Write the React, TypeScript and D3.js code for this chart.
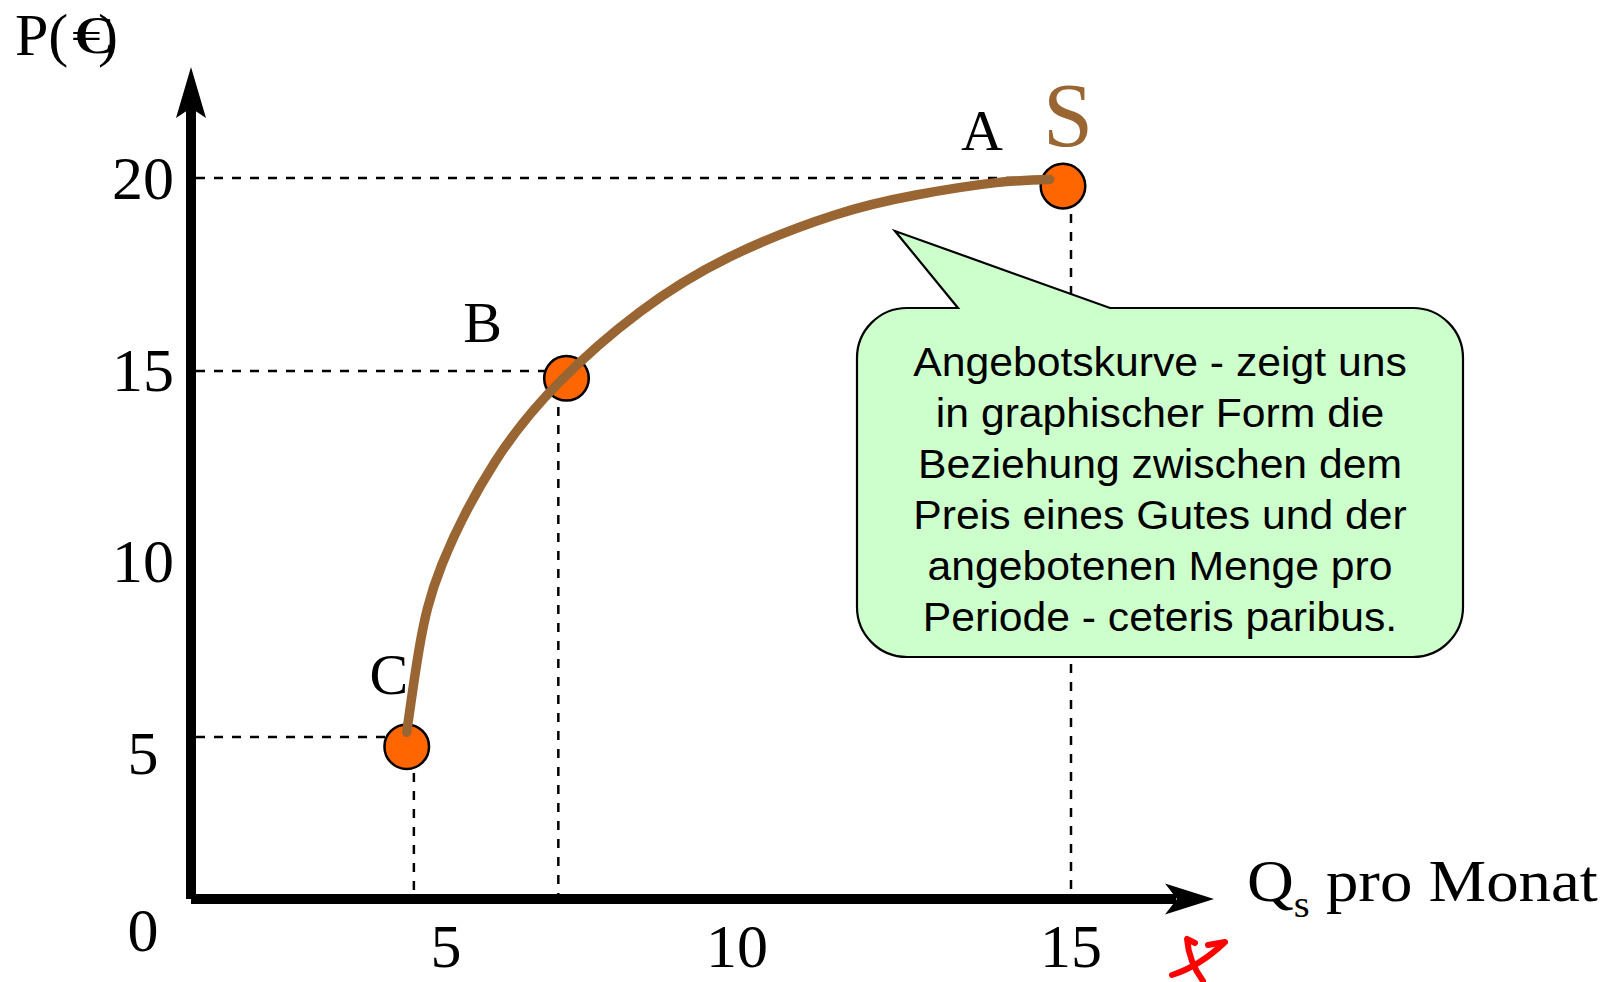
import React from 'react';
import * as d3 from 'd3';

// ---- data ----
const qTicks = [5, 10, 15];
const pTicks = [5, 10, 15, 20];
const pointNames = ['A', 'B', 'C'];
const pointQ = [14.88, 7.07, 4.23];
const pointP = [19.79, 14.8, 4.7];
const guideQ = [15, 6.93, 4.37];
const guideP = [20, 15, 5];
const curveQ = [4.23, 4.48, 4.92, 5.84, 6.95, 8.33, 9.88, 11.44, 12.68, 13.88, 14.68];
const curveP = [5.13, 7.46, 9.71, 12.51, 14.7, 16.53, 17.96, 19.03, 19.56, 19.88, 19.96];
const calloutLines = [
  'Angebotskurve - zeigt uns',
  'in graphischer Form die',
  'Beziehung zwischen dem',
  'Preis eines Gutes und der',
  'angebotenen Menge pro',
  'Periode - ceteris paribus.',
];
const curveName = 'S';
const xTitle = 'Q';
const xTitleSub = 's';
const xTitleRest = ' pro Monat';

// ---- layout/styles ----
const W = 1610;
const H = 982;
const serif = '"Liberation Serif", "Times New Roman", serif';
const sans = '"Liberation Sans", Arial, sans-serif';
const brown = '#996633';
const orange = '#FF6600';
const labelOffsets = [
  [-81, -36],
  [-84, -36],
  [-18, -53],
];

export default function App() {
  const x = d3.scaleLinear().domain([0, 5, 10, 15]).range([191, 446, 737, 1071]);
  const y = d3.scaleLinear().domain([0, 5, 15, 20]).range([899, 737, 371, 178]);
  const yLabel = d3.scaleLinear().domain([5, 20]).range([774, 199]);

  const x0 = x(0);
  const y0 = y(0);
  const axisW = 10;

  const curveData = curveQ.map((q, i) => [q, curveP[i]] as [number, number]);
  const line = d3
    .line<[number, number]>()
    .x((d) => x(d[0]))
    .y((d) => y(d[1]))
    .curve(d3.curveNatural);

  // callout
  const bx0 = 857, bx1 = 1463, by0 = 308, by1 = 657, r = 50;
  const tail = { l: 958, tipX: 895, tipY: 231, r: 1110 };
  const cp = d3.path();
  cp.moveTo(bx0 + r, by0);
  cp.lineTo(tail.l, by0);
  cp.lineTo(tail.tipX, tail.tipY);
  cp.lineTo(tail.r, by0);
  cp.lineTo(bx1 - r, by0);
  cp.arcTo(bx1, by0, bx1, by0 + r, r);
  cp.lineTo(bx1, by1 - r);
  cp.arcTo(bx1, by1, bx1 - r, by1, r);
  cp.lineTo(bx0 + r, by1);
  cp.arcTo(bx0, by1, bx0, by1 - r, r);
  cp.lineTo(bx0, by0 + r);
  cp.arcTo(bx0, by0, bx0 + r, by0, r);
  cp.closePath();
  const cx = (bx0 + bx1) / 2;

  const xEnd = 1214;
  const yTop = 67;

  return (
    <svg
      width={W}
      height={H}
      viewBox={`0 0 ${W} ${H}`}
      style={{ position: 'absolute', left: 0, top: 0, background: '#fff' }}
    >
      <rect x={0} y={0} width={W} height={H} fill="#fff" />

      {/* dashed guides */}
      <g stroke="#000" strokeWidth={2.5} strokeDasharray="9,9" fill="none">
        {guideQ.map((q, i) => (
          <g key={i}>
            <line x1={x0 + axisW / 2} y1={y(guideP[i])} x2={x(q)} y2={y(guideP[i])} />
            <line x1={x(q)} y1={y(guideP[i])} x2={x(q)} y2={y0 - axisW / 2} />
          </g>
        ))}
      </g>

      {/* axes */}
      <line x1={x0} y1={y0} x2={x0} y2={yTop + 40} stroke="#000" strokeWidth={axisW} />
      <line x1={x0} y1={y0} x2={xEnd - 38} y2={y0} stroke="#000" strokeWidth={axisW} />
      <polygon
        points={`${x0},${yTop} ${x0 + 15},${yTop + 51} ${x0},${yTop + 41} ${x0 - 15},${yTop + 51}`}
        fill="#000"
      />
      <polygon
        points={`${xEnd},${y0} ${xEnd - 49},${y0 - 15.5} ${xEnd - 37},${y0} ${xEnd - 49},${y0 + 15.5}`}
        fill="#000"
      />

      {/* tick labels */}
      <g fontFamily={serif} fontSize={62} fill="#000" textAnchor="middle">
        {pTicks.map((v) => (
          <text key={'p' + v} x={143} y={yLabel(v)}>
            {v}
          </text>
        ))}
        <text x={143} y={951}>0</text>
        {qTicks.map((v) => (
          <text key={'q' + v} x={x(v)} y={967}>
            {v}
          </text>
        ))}
      </g>

      {/* axis titles */}
      <g fontFamily={serif} fill="#000">
        <text x={15} y={55} fontSize={60}>
          P(
        </text>
        <text transform="translate(72,53) scale(1.55,1)" fontSize={52}>
          €
        </text>
        <text x={98} y={55} fontSize={60}>
          )
        </text>
        <text transform="translate(1247,901) scale(1.08,1)" fontSize={60}>
          {xTitle}
          <tspan fontSize={38} dy={16}>
            {xTitleSub}
          </tspan>
          <tspan dy={-16}>{xTitleRest}</tspan>
        </text>
      </g>

      {/* points */}
      {pointQ.map((q, i) => (
        <circle
          key={i}
          cx={x(q)}
          cy={y(pointP[i])}
          r={22.3}
          fill={orange}
          stroke="#000"
          strokeWidth={2.5}
        />
      ))}

      {/* supply curve */}
      <path d={line(curveData) || ''} fill="none" stroke={brown} strokeWidth={9.5} strokeLinecap="round" />

      {/* point labels */}
      <g fontFamily={serif} fontSize={58} fill="#000" textAnchor="middle">
        {pointNames.map((n, i) => (
          <text key={n} x={x(pointQ[i]) + labelOffsets[i][0]} y={y(pointP[i]) + labelOffsets[i][1]}>
            {n}
          </text>
        ))}
      </g>
      <text
        x={x(pointQ[0]) + 5}
        y={y(pointP[0]) - 40}
        fontFamily={serif}
        fontSize={90}
        fill={brown}
        textAnchor="middle"
      >
        {curveName}
      </text>

      {/* callout */}
      <path d={cp.toString()} fill="#CCFFCC" stroke="#000" strokeWidth={2.2} strokeLinejoin="miter" />
      <g fontFamily={sans} fontSize={40} fill="#000" textAnchor="middle" transform={`translate(${cx},0) scale(1.067,1)`}>
        {calloutLines.map((t, i) => (
          <text key={i} x={0} y={376 + i * 51}>
            {t}
          </text>
        ))}
      </g>

      {/* red mark */}
      <g stroke="#FF0000" strokeWidth={6} fill="none" strokeLinecap="round" strokeLinejoin="round">
        <path d="M1195,943 L1187,939 Q1189,962 1203,981" />
        <path d="M1172,975 Q1200,966 1225,942 L1208,945" />
      </g>
    </svg>
  );
}
